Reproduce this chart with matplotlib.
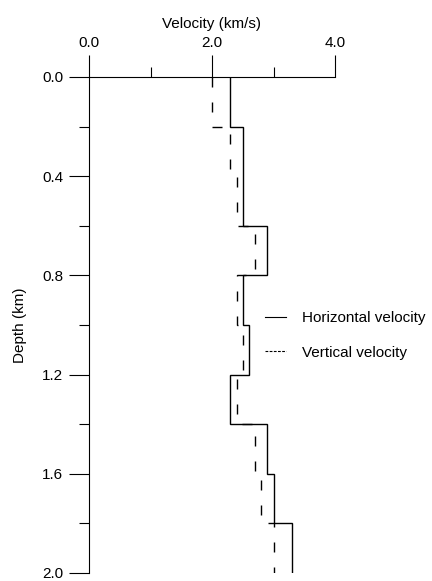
import matplotlib
matplotlib.use("Agg")
import matplotlib.pyplot as plt
from matplotlib.lines import Line2D

# layer boundaries (km) and interval velocities (km/s)
depth_edges = [0.0, 0.2, 0.4, 0.6, 0.8, 1.0, 1.2, 1.4, 1.6, 1.8, 2.0]
horiz_vel = [2.3, 2.5, 2.5, 2.9, 2.5, 2.6, 2.3, 2.9, 3.0, 3.3]
vert_vel = [2.0, 2.3, 2.4, 2.7, 2.4, 2.5, 2.4, 2.7, 2.8, 3.0]

x_major = [0.0, 2.0, 4.0]
x_minor = [1.0, 3.0]
y_major = [0.0, 0.4, 0.8, 1.2, 1.6, 2.0]
y_minor = [0.2, 0.6, 1.0, 1.4, 1.8]

plt.rcParams['font.family'] = ['Liberation Sans', 'DejaVu Sans']
plt.rcParams['font.size'] = 11
plt.rcParams['lines.scale_dashes'] = False

fig = plt.figure(figsize=(4.32, 5.81), dpi=100)
ax = fig.add_axes([89/432, 1 - 573/581, (335 - 89)/432, 496/581])

ax.stairs(horiz_vel, depth_edges, orientation='horizontal', baseline=None,
          color='black', linewidth=1.0)
ax.stairs(vert_vel, depth_edges, orientation='horizontal', baseline=None,
          color='black', linewidth=1.0, linestyle=(0, (7.2, 10.8)))

ax.set_xlim(0, 4)
ax.set_ylim(2.0, 0.0)
ax.xaxis.set_ticks_position('top')
ax.xaxis.set_label_position('top')
ax.set_xticks(x_major)
ax.set_xticks(x_minor, minor=True)
ax.set_xticklabels(['%.1f' % v for v in x_major])
ax.set_yticks(y_major)
ax.set_yticks(y_minor, minor=True)
ax.set_yticklabels(['%.1f' % v for v in y_major])

ax.tick_params(axis='x', which='major', direction='out', length=15.5, width=0.8, pad=4)
ax.tick_params(axis='x', which='minor', direction='out', length=7.5, width=0.8)
ax.tick_params(axis='y', which='major', direction='out', length=14.5, width=0.8, pad=4)
ax.tick_params(axis='y', which='minor', direction='out', length=7.2, width=0.8)

ax.spines['right'].set_visible(False)
ax.spines['bottom'].set_visible(False)
ax.spines['top'].set_linewidth(0.8)
ax.spines['left'].set_linewidth(0.8)

ax.set_xlabel('Velocity (km/s)', labelpad=6)
ax.set_ylabel('Depth (km)', labelpad=11)

handles = [Line2D([], [], color='black', linewidth=0.8),
           Line2D([], [], color='black', linewidth=0.8, linestyle=(0, (2.0, 1.0)))]
fig.legend(handles, ['Horizontal velocity', 'Vertical velocity'],
           loc='upper left', bbox_to_anchor=(265/432, 1 - 311/581),
           frameon=False, borderpad=0, borderaxespad=0,
           handlelength=1.35, handletextpad=1.1, labelspacing=1.35)

fig.savefig('out.png', dpi=100)
